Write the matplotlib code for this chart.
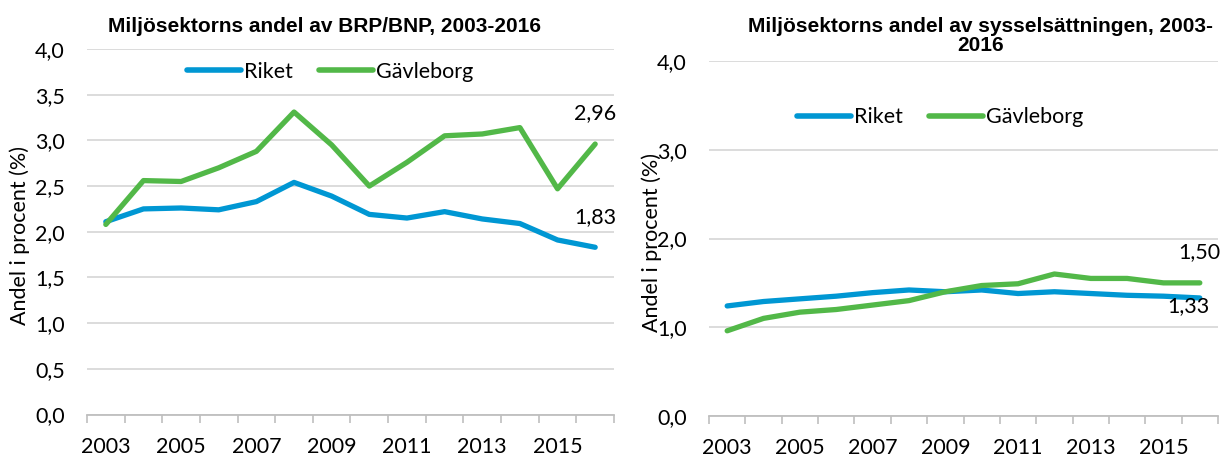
import matplotlib
matplotlib.use("Agg")
import matplotlib.pyplot as plt
from matplotlib.ticker import FuncFormatter

years = list(range(2003, 2017))
year_labels = [str(y) if (y - 2003) % 2 == 0 else "" for y in years]

# Miljösektorns andel av BRP/BNP (%)
brp_riket = [2.11, 2.25, 2.26, 2.24, 2.33, 2.54, 2.39, 2.19, 2.15, 2.22, 2.14, 2.09, 1.91, 1.83]
brp_gavleborg = [2.08, 2.56, 2.55, 2.70, 2.88, 3.31, 2.95, 2.50, 2.76, 3.05, 3.07, 3.14, 2.47, 2.96]

# Miljösektorns andel av sysselsättningen (%)
syss_riket = [1.24, 1.29, 1.32, 1.35, 1.39, 1.42, 1.40, 1.42, 1.38, 1.40, 1.38, 1.36, 1.35, 1.33]
syss_gavleborg = [0.96, 1.10, 1.17, 1.20, 1.25, 1.30, 1.40, 1.47, 1.49, 1.60, 1.55, 1.55, 1.50, 1.50]

BLUE = "#0097D3"
GREEN = "#52B848"
GRID = "#D9D9D9"
AXIS = "#BFBFBF"
TEXT_FONT = ["Lato", "DejaVu Sans"]
TITLE_FONT = ["Liberation Sans", "DejaVu Sans"]
FS = 15.5

comma = FuncFormatter(lambda v, _: f"{v:.1f}".replace(".", ","))


def draw_panel(ax, riket, gavleborg, yticks, legend_xy, ylabel_x, label_offsets):
    x = list(range(len(years)))
    ax.plot(x, riket, color=BLUE, lw=3.8, solid_capstyle="round", label="Riket")
    ax.plot(x, gavleborg, color=GREEN, lw=3.8, solid_capstyle="round", label="Gävleborg")
    ax.set_xlim(-0.5, len(years) - 0.5)
    ax.set_ylim(0, 4)
    ax.set_yticks(yticks)
    ax.yaxis.set_major_formatter(comma)
    ax.grid(axis="y", color=GRID, lw=1.3)
    ax.set_axisbelow(True)
    # ticks between categories, labels on every other year
    ax.set_xticks([i - 0.5 for i in range(len(years) + 1)])
    ax.set_xticklabels([])
    ax.set_xticks(x, minor=True)
    ax.set_xticklabels(year_labels, minor=True, fontsize=FS, family=TEXT_FONT)
    ax.tick_params(axis="x", which="major", length=6, color=AXIS, width=1.2)
    ax.tick_params(axis="x", which="minor", length=0, pad=16)
    ax.tick_params(axis="y", length=0, labelsize=FS, pad=16)
    for lab in ax.get_yticklabels():
        lab.set_family(TEXT_FONT)
    for side in ("top", "right", "left"):
        ax.spines[side].set_visible(False)
    ax.spines["bottom"].set_color(AXIS)
    ax.spines["bottom"].set_linewidth(1.3)
    ax.set_ylabel("Andel i procent (%)", fontsize=FS, family=TEXT_FONT)
    ax.yaxis.set_label_coords(ylabel_x, 0.49)
    leg = ax.legend(loc="center", bbox_to_anchor=legend_xy, ncol=2, frameon=False,
                    prop={"family": TEXT_FONT, "size": FS}, handlelength=2.5,
                    handletextpad=0.15, columnspacing=1.2, borderpad=0, borderaxespad=0)
    for h in leg.get_lines():
        h.set_linewidth(4.0)
        h.set_solid_capstyle("round")
    last = len(years) - 1
    (rdx, rdy), (gdx, gdy) = label_offsets
    ax.annotate(f"{riket[-1]:.2f}".replace(".", ","), (last, riket[-1]), xytext=(rdx, rdy),
                textcoords="offset points", ha="center", va="center", fontsize=FS, family=TEXT_FONT)
    ax.annotate(f"{gavleborg[-1]:.2f}".replace(".", ","), (last, gavleborg[-1]), xytext=(gdx, gdy),
                textcoords="offset points", ha="center", va="center", fontsize=FS, family=TEXT_FONT)


W, H = 1224, 458
fig = plt.figure(figsize=(W / 100, H / 100), dpi=100)
ax1 = fig.add_axes([87 / W, 1 - 414.5 / H, 527 / W, 365.5 / H])
ax2 = fig.add_axes([709 / W, 1 - 416 / H, 509 / W, 355 / H])

draw_panel(ax1, brp_riket, brp_gavleborg, [0, 0.5, 1, 1.5, 2, 2.5, 3, 3.5, 4],
           (0.462, 0.937), -0.108, ((0, 22), (0, 22)))
draw_panel(ax2, syss_riket, syss_gavleborg, [0, 1, 2, 3, 4],
           (0.454, 0.842), -0.092, ((-8.5, -6), (0, 22)))

fig.text(325 / W, 1 - 26 / H, "Miljösektorns andel av BRP/BNP, 2003-2016",
         ha="center", va="center", fontsize=15, fontweight="bold", family=TITLE_FONT)
fig.text(981 / W, 1 - 36 / H, "Miljösektorns andel av sysselsättningen, 2003-\n2016",
         ha="center", va="center", fontsize=15, fontweight="bold", family=TITLE_FONT,
         linespacing=1.05)

fig.savefig("out.png", dpi=100)
